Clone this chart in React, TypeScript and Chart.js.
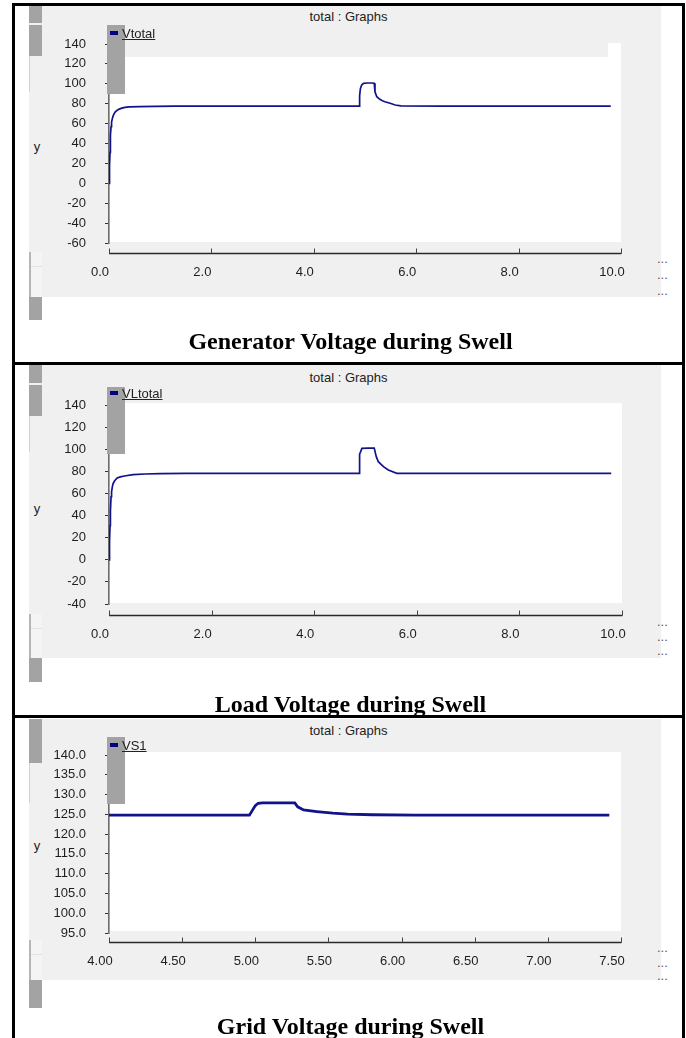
import React, { useEffect, useRef } from 'react';
import { Chart, registerables } from 'chart.js';

Chart.register(...registerables);

// ---------- data ----------
const genTime = [0, 0.01, 0.02, 0.025, 0.03, 0.04, 0.05, 0.07, 0.09, 0.12, 0.16, 0.2, 0.25, 0.31, 0.4, 0.6, 0.9, 1.3, 2.0, 3.0, 4.0, 4.89, 4.895, 4.91, 4.935, 4.97, 5.05, 5.12, 5.18, 5.195, 5.23, 5.29, 5.34, 5.39, 5.49, 5.59, 5.7, 6.5, 7.5, 8.5, 9.8];
const genVolt = [0, 18, 31, 31, 48, 57, 61.5, 66, 69, 71.5, 73.5, 74.6, 75.5, 76.3, 76.8, 77.1, 77.3, 77.5, 77.6, 77.6, 77.6, 77.6, 88, 95, 98.8, 100.4, 100.8, 100.8, 100.6, 92, 87, 84.4, 83, 82, 80.4, 78.7, 77.8, 77.6, 77.6, 77.6, 77.6];

const loadTime = [0, 0.01, 0.02, 0.025, 0.03, 0.04, 0.05, 0.065, 0.08, 0.11, 0.16, 0.22, 0.3, 0.47, 0.7, 1.0, 1.5, 2.5, 3.5, 4.88, 4.885, 4.93, 5.05, 5.17, 5.21, 5.25, 5.35, 5.445, 5.61, 6.5, 7.5, 8.5, 9.79];
const loadVolt = [0, 16, 31, 31, 44, 57, 61.5, 66, 69, 71.5, 74, 75, 75.8, 77, 77.6, 78, 78.2, 78.2, 78.2, 78.2, 95.4, 100.8, 101, 101, 93.3, 88.7, 84.2, 81.2, 78.2, 78.2, 78.2, 78.2, 78.2];

const gridTime = [4.0, 4.5, 4.96, 4.98, 5.0, 5.02, 5.05, 5.27, 5.29, 5.33, 5.42, 5.53, 5.63, 5.8, 6.1, 6.5, 7.0, 7.42];
const gridVolt = [124.8, 124.8, 124.8, 126.0, 127.2, 127.8, 127.9, 127.9, 126.9, 126.1, 125.7, 125.3, 125.05, 124.9, 124.8, 124.8, 124.8, 124.8];

const genXTicks = [0, 2, 4, 6, 8, 10];
const genXLabels = ['0.0', '2.0', '4.0', '6.0', '8.0', '10.0'];
const genYTicks = [-60, -40, -20, 0, 20, 40, 60, 80, 100, 120, 140];
const genYLabels = ['-60', '-40', '-20', '0', '20', '40', '60', '80', '100', '120', '140'];

const loadXTicks = [0, 2, 4, 6, 8, 10];
const loadXLabels = ['0.0', '2.0', '4.0', '6.0', '8.0', '10.0'];
const loadYTicks = [-40, -20, 0, 20, 40, 60, 80, 100, 120, 140];
const loadYLabels = ['-40', '-20', '0', '20', '40', '60', '80', '100', '120', '140'];

const gridXTicks = [4.0, 4.5, 5.0, 5.5, 6.0, 6.5, 7.0, 7.5];
const gridXLabels = ['4.00', '4.50', '5.00', '5.50', '6.00', '6.50', '7.00', '7.50'];
const gridYTicks = [95, 100, 105, 110, 115, 120, 125, 130, 135, 140];
const gridYLabels = ['95.0', '100.0', '105.0', '110.0', '115.0', '120.0', '125.0', '130.0', '135.0', '140.0'];

const seriesNames = ['Vtotal', 'VLtotal', 'VS1'];
const captions = ['Generator Voltage during Swell', 'Load Voltage during Swell', 'Grid Voltage during Swell'];
const graphTitle = 'total : Graphs';

// ---------- styles ----------
const NAVY = '#12128a';
const SANS = '"Liberation Sans", Arial, sans-serif';
const SERIF = '"Liberation Serif", "Times New Roman", serif';
const W = 686;
const X_AXIS_H = 40;

const xAxisLinePlugin = {
  id: 'xAxisLine',
  afterDraw(chart: any, _args: any, opts: any) {
    const xs = chart.scales.x;
    const ctx = chart.ctx;
    const y = Math.round(chart.chartArea.bottom + opts.gap) + 0.5;
    const x0 = xs.getPixelForValue(xs.min);
    const x1 = xs.getPixelForValue(xs.max);
    ctx.save();
    ctx.strokeStyle = '#2a2a2a';
    ctx.lineWidth = 1.3;
    ctx.beginPath();
    ctx.moveTo(x0, y);
    ctx.lineTo(x1 + 0.5, y);
    ctx.stroke();
    ctx.lineWidth = 1;
    ctx.strokeStyle = '#444';
    xs.ticks.forEach((t: any) => {
      const px = Math.round(xs.getPixelForValue(t.value)) + 0.5;
      ctx.beginPath();
      ctx.moveTo(px, y);
      ctx.lineTo(px, y - 5);
      ctx.stroke();
    });
    ctx.restore();
  },
};

type PanelCfg = {
  t: number[];
  v: number[];
  lw: number;
  canvasTop: number;
  canvasH: number;
  chartLeft: number;
  chartRight: number;
  chartTop: number;
  chartBottom: number;
  gap: number;
  labelPad: number;
  xMin: number;
  xMax: number;
  yMin: number;
  yMax: number;
  xTicks: number[];
  xLabels: string[];
  yTicks: number[];
  yLabels: string[];
};

function ChartPanel({ cfg }: { cfg: PanelCfg }) {
  const ref = useRef<HTMLCanvasElement>(null);
  useEffect(() => {
    const top = cfg.chartTop - cfg.canvasTop;
    const bottom = cfg.canvasH - (cfg.chartBottom - cfg.canvasTop) - X_AXIS_H;
    const chart = new Chart(ref.current as HTMLCanvasElement, {
      type: 'line',
      data: {
        datasets: [
          {
            data: cfg.t.map((t, i) => ({ x: t, y: cfg.v[i] })),
            borderColor: NAVY,
            borderWidth: cfg.lw,
            pointRadius: 0,
            tension: 0,
            fill: false,
          },
        ],
      },
      options: {
        animation: false,
        responsive: false,
        maintainAspectRatio: false,
        devicePixelRatio: 1,
        events: [],
        layout: { padding: { left: 0, right: W - cfg.chartRight, top, bottom } },
        plugins: {
          legend: { display: false },
          title: { display: false },
          tooltip: { enabled: false },
          xAxisLine: { gap: cfg.gap },
        } as any,
        scales: {
          x: {
            type: 'linear',
            min: cfg.xMin,
            max: cfg.xMax,
            afterBuildTicks: (s: any) => {
              s.ticks = cfg.xTicks.map((v) => ({ value: v }));
            },
            afterFit: (s: any) => {
              s.height = X_AXIS_H;
            },
            ticks: {
              callback: (_v: any, i: number) => cfg.xLabels[i],
              padding: cfg.labelPad,
              labelOffset: -9,
              maxRotation: 0,
              autoSkip: false,
              color: '#1e1e1e',
              font: { family: SANS, size: 13 },
            },
            grid: { display: false },
            border: { display: false },
          },
          y: {
            type: 'linear',
            min: cfg.yMin,
            max: cfg.yMax,
            afterBuildTicks: (s: any) => {
              s.ticks = cfg.yTicks.map((v) => ({ value: v }));
            },
            afterFit: (s: any) => {
              s.width = cfg.chartLeft;
            },
            ticks: {
              callback: (_v: any, i: number) => cfg.yLabels[i],
              padding: 19,
              autoSkip: false,
              color: '#1e1e1e',
              font: { family: SANS, size: 13 },
            },
            grid: {
              display: true,
              drawOnChartArea: false,
              drawTicks: true,
              tickLength: 4,
              color: '#333',
              lineWidth: 1,
            },
            border: { display: true, color: '#6e6e6e', width: 1.6 },
          },
        },
      } as any,
      plugins: [xAxisLinePlugin as any],
    });
    return () => chart.destroy();
  }, []);
  return (
    <canvas
      ref={ref}
      width={W}
      height={cfg.canvasH}
      style={{ position: 'absolute', left: 0, top: cfg.canvasTop, width: W, height: cfg.canvasH }}
    />
  );
}

const box = (l: number, t: number, w: number, h: number, bg: string, extra: any = {}) => (
  <div style={{ position: 'absolute', left: l, top: t, width: w, height: h, background: bg, ...extra }} />
);

const textAt = (cx: number, cy: number, s: string, style: any) => (
  <div
    style={{
      position: 'absolute',
      left: cx,
      top: cy,
      transform: 'translate(-50%, -50%)',
      whiteSpace: 'nowrap',
      lineHeight: 1,
      ...style,
    }}
  >
    {s}
  </div>
);

type Deco = {
  greyTop: number;
  greyBottom: number;
  white: [number, number, number, number];
  overlay?: [number, number, number, number];
  notch?: boolean;
  darkBlocks: [number, number][];
  faint: [number, number];
  lightBlock: [number, number];
  bottomDark: [number, number];
  legendBlock: [number, number];
  legendY: number;
  titleY: number;
  yLabelY: number;
  dots: number[];
  captionY: number;
  name: string;
  caption: string;
};

function Background({ d }: { d: Deco }) {
  return (
    <>
      {box(29, d.greyTop, 632, d.greyBottom - d.greyTop, '#f0f0f0')}
      {box(d.white[0], d.white[1], d.white[2] - d.white[0], d.white[3] - d.white[1], '#ffffff')}
      {d.overlay && box(d.overlay[0], d.overlay[1], d.overlay[2] - d.overlay[0], d.overlay[3] - d.overlay[1], '#f0f0f0')}
      {textAt(348.5, d.titleY, graphTitle, { fontFamily: SANS, fontSize: 13, color: '#222' })}
      {textAt(37, d.yLabelY, 'y', { fontFamily: SANS, fontSize: 13, color: '#222' })}
      {d.dots.map((y, i) => (
        <div
          key={i}
          style={{ position: 'absolute', left: 657, top: y - 11, fontFamily: SANS, fontSize: 13, lineHeight: '13px', color: '#555' }}
        >
          ...
        </div>
      ))}
    </>
  );
}

function Foreground({ d }: { d: Deco }) {
  return (
    <>
      {d.darkBlocks.map(([a, b], i) => (
        <React.Fragment key={i}>{box(29, a, 13, b - a, '#a3a3a3')}</React.Fragment>
      ))}
      {box(29, d.faint[0], 1, d.faint[1] - d.faint[0], '#d2d2d2')}
      {box(29, d.lightBlock[0], 13, d.lightBlock[1] - d.lightBlock[0], '#f4f4f4', { borderLeft: '2px solid #b6b6b6', boxSizing: 'border-box' })}
      {box(31, d.lightBlock[0] + 14, 11, 1, '#e2e2e2')}
      {box(29, d.bottomDark[0], 13, d.bottomDark[1] - d.bottomDark[0], '#a3a3a3')}
      {box(107, d.legendBlock[0], 18, d.legendBlock[1] - d.legendBlock[0], '#a3a3a3')}
      {box(110, d.legendY - 7, 8, 4, '#000080')}
      <div
        style={{
          position: 'absolute',
          left: 122,
          top: d.legendY - 11,
          fontFamily: SANS,
          fontSize: 13,
          lineHeight: '13px',
          color: '#222',
          textDecoration: 'underline',
          whiteSpace: 'nowrap',
        }}
      >
        {d.name}
      </div>
      {textAt(350.5, d.captionY, d.caption, { fontFamily: SERIF, fontSize: 24, fontWeight: 'bold', color: '#000' })}
    </>
  );
}

const panels: PanelCfg[] = [
  {
    t: genTime, v: genVolt, lw: 1.7,
    canvasTop: 6, canvasH: 356,
    chartLeft: 109, chartRight: 621, chartTop: 44, chartBottom: 243,
    gap: 10, labelPad: 14,
    xMin: 0, xMax: 10, yMin: -60, yMax: 140,
    xTicks: genXTicks, xLabels: genXLabels, yTicks: genYTicks, yLabels: genYLabels,
  },
  {
    t: loadTime, v: loadVolt, lw: 1.7,
    canvasTop: 365, canvasH: 350,
    chartLeft: 109, chartRight: 622, chartTop: 405, chartBottom: 604,
    gap: 11, labelPad: 15,
    xMin: 0, xMax: 10, yMin: -40, yMax: 140,
    xTicks: loadXTicks, xLabels: loadXLabels, yTicks: loadYTicks, yLabels: loadYLabels,
  },
  {
    t: gridTime, v: gridVolt, lw: 2.8,
    canvasTop: 718, canvasH: 320,
    chartLeft: 109, chartRight: 621, chartTop: 755, chartBottom: 933,
    gap: 9, labelPad: 13,
    xMin: 4, xMax: 7.5, yMin: 95, yMax: 140,
    xTicks: gridXTicks, xLabels: gridXLabels, yTicks: gridYTicks, yLabels: gridYLabels,
  },
];

const decos: Deco[] = [
  {
    greyTop: 6, greyBottom: 297,
    white: [110, 43, 621, 242],
    overlay: [29, 6, 608, 57],
    darkBlocks: [[6, 23], [25, 56]],
    faint: [56, 92],
    lightBlock: [252, 297],
    bottomDark: [297, 320],
    legendBlock: [25, 94],
    legendY: 38,
    titleY: 16,
    yLabelY: 146,
    dots: [263, 279, 295],
    captionY: 341,
    name: seriesNames[0],
    caption: captions[0],
  },
  {
    greyTop: 365, greyBottom: 658,
    white: [110, 403, 622, 603],
    darkBlocks: [[365, 383], [385, 416]],
    faint: [416, 452],
    lightBlock: [614, 658],
    bottomDark: [658, 682],
    legendBlock: [387, 454],
    legendY: 398,
    titleY: 376.5,
    yLabelY: 508,
    dots: [626, 641, 655],
    captionY: 704,
    name: seriesNames[1],
    caption: captions[1],
  },
  {
    greyTop: 719, greyBottom: 980,
    white: [110, 752, 621, 931],
    darkBlocks: [[719, 763]],
    faint: [763, 803],
    lightBlock: [940, 980],
    bottomDark: [980, 1008],
    legendBlock: [737, 804],
    legendY: 750,
    titleY: 729.5,
    yLabelY: 845,
    dots: [952, 967, 980],
    captionY: 1026,
    name: seriesNames[2],
    caption: captions[2],
  },
];

export default function App() {
  return (
    <div style={{ position: 'absolute', left: 0, top: 0, width: W, height: 1038, background: '#fff', overflow: 'hidden' }}>
      {decos.map((d, i) => (
        <Background key={'b' + i} d={d} />
      ))}
      {panels.map((p, i) => (
        <ChartPanel key={'c' + i} cfg={p} />
      ))}
      {decos.map((d, i) => (
        <Foreground key={'f' + i} d={d} />
      ))}
      {/* table borders */}
      {box(12, 3, 673, 3, '#000')}
      {box(12, 362, 673, 3, '#000')}
      {box(12, 715, 673, 3, '#000')}
      {box(12, 3, 3, 1035, '#000')}
      {box(682, 3, 3, 1035, '#000')}
    </div>
  );
}
